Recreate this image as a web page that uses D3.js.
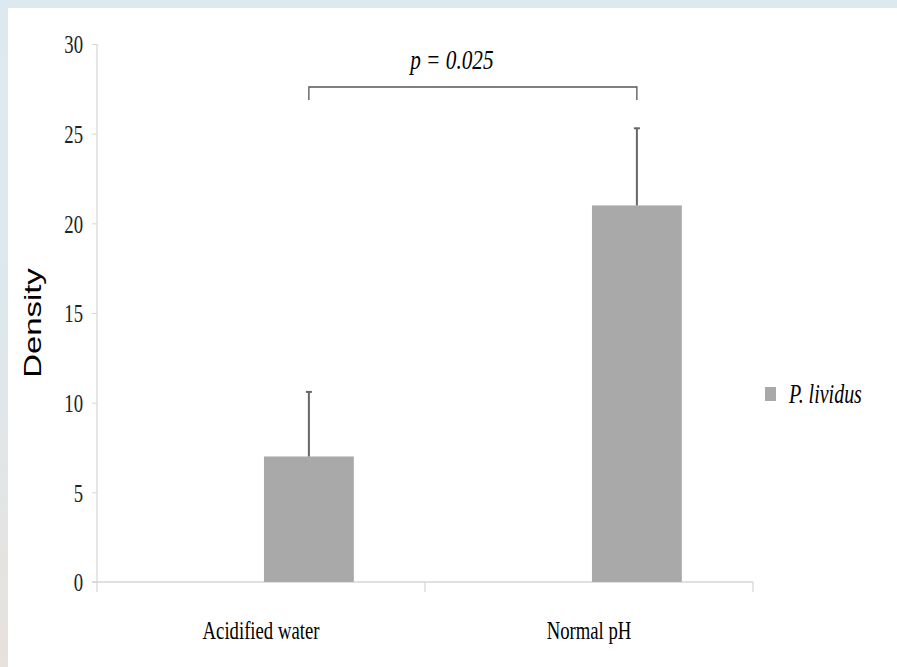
<!DOCTYPE html>
<html>
<head>
<meta charset="utf-8">
<script src="https://cdn.jsdelivr.net/npm/d3@7"></script>
<style>
  html, body { margin: 0; padding: 0; background: #ffffff; }
  svg { display: block; }
</style>
</head>
<body>
<svg id="chart" width="897" height="667"></svg>
<script>
// Sea urchin density by water treatment
const categories = ["Acidified water", "Normal pH"];
const seriesName = "P. lividus";
const means = [7.0, 21.0];
const errors = [3.6, 4.3];
const yTicks = [0, 5, 10, 15, 20, 25, 30];
const pLabel = "p = 0.025";

(function draw() {
  const W = 897, H = 667;
  const svg = d3.select("#chart");

  // Frame: light blue band on top, blue-to-beige band on the left
  const defs = svg.append("defs");
  const grad = defs.append("linearGradient").attr("id", "edge").attr("x1", 0).attr("y1", 0).attr("x2", 0).attr("y2", 1);
  grad.append("stop").attr("offset", "0%").attr("stop-color", "#dde9f1");
  grad.append("stop").attr("offset", "55%").attr("stop-color", "#dfe7ec");
  grad.append("stop").attr("offset", "100%").attr("stop-color", "#e8e1dc");
  svg.append("rect").attr("x", 0).attr("y", 0).attr("width", W).attr("height", 8).attr("fill", "#dde9f1");
  svg.append("rect").attr("x", 0).attr("y", 0).attr("width", 8).attr("height", H).attr("fill", "url(#edge)");

  const pLeft = 97, pRight = 753, pTop = 44, pBottom = 582;
  const serif = "'Liberation Serif', 'Times New Roman', serif";
  const fs = 26, sx = 0.72;   // condensed serif text

  const x = d3.scaleBand().domain(categories).range([pLeft, pRight]).padding(0);
  const y = d3.scaleLinear().domain([0, 30]).range([pBottom, pTop]);

  const axisColor = "#d6d6d6";

  // y axis
  const yAxis = svg.append("g").attr("transform", `translate(${pLeft},0)`)
    .call(d3.axisLeft(y).tickValues(yTicks).tickSize(5).tickFormat(d3.format("d")));
  yAxis.select(".domain").remove();
  yAxis.selectAll(".tick line").attr("stroke", axisColor);
  yAxis.selectAll(".tick text").remove();
  yAxis.selectAll(".tick").append("text")
    .attr("transform", `translate(-14,0) scale(${sx},1)`)
    .attr("text-anchor", "end").attr("dy", "0.34em")
    .attr("fill", "#222").attr("font-family", serif).attr("font-size", fs)
    .text(d => d);
  svg.append("line").attr("x1", pLeft).attr("x2", pLeft).attr("y1", pTop).attr("y2", pBottom + 10)
    .attr("stroke", axisColor).attr("stroke-width", 1.2);

  // x axis with boundary ticks
  svg.append("line").attr("x1", pLeft - 5).attr("x2", pRight).attr("y1", pBottom).attr("y2", pBottom)
    .attr("stroke", axisColor).attr("stroke-width", 1.5);
  const bounds = [x(categories[1]), pRight];
  svg.selectAll(".xb").data(bounds).join("line")
    .attr("x1", d => d).attr("x2", d => d).attr("y1", pBottom).attr("y2", pBottom + 10)
    .attr("stroke", axisColor).attr("stroke-width", 1.2);

  svg.selectAll(".xl").data(categories).join("text")
    .attr("transform", d => `translate(${x(d) + x.bandwidth() / 2},${pBottom + 57}) scale(${sx},1)`)
    .attr("text-anchor", "middle").attr("fill", "#000")
    .attr("font-family", serif).attr("font-size", fs)
    .text(d => d);

  // bars sit in the right half of each category band
  const barX = d => x(d) + x.bandwidth() * 0.509;
  const barW = x.bandwidth() * 0.274;

  const rows = categories.map((c, i) => ({ c, v: means[i], e: errors[i] }));

  svg.selectAll(".bar").data(rows).join("rect")
    .attr("x", d => barX(d.c)).attr("width", barW)
    .attr("y", d => y(d.v)).attr("height", d => y(0) - y(d.v))
    .attr("fill", "#a9a9a9");

  // upper error bars
  const eb = svg.selectAll(".eb").data(rows).join("g");
  eb.append("line")
    .attr("x1", d => barX(d.c) + barW / 2).attr("x2", d => barX(d.c) + barW / 2)
    .attr("y1", d => y(d.v)).attr("y2", d => y(d.v + d.e))
    .attr("stroke", "#666").attr("stroke-width", 2);
  eb.append("line")
    .attr("x1", d => barX(d.c) + barW / 2 - 3).attr("x2", d => barX(d.c) + barW / 2 + 3)
    .attr("y1", d => y(d.v + d.e)).attr("y2", d => y(d.v + d.e))
    .attr("stroke", "#666").attr("stroke-width", 2);

  // significance bracket
  const bx1 = barX(categories[0]) + barW / 2, bx2 = barX(categories[1]) + barW / 2;
  const by = 87;
  svg.append("path")
    .attr("d", `M${bx1},${by + 13}V${by}H${bx2}V${by + 13}`)
    .attr("fill", "none").attr("stroke", "#555").attr("stroke-width", 1.3);
  svg.append("text")
    .attr("transform", `translate(${(bx1 + bx2) / 2 - 21},${by - 18}) scale(0.76,1)`)
    .attr("text-anchor", "middle").attr("fill", "#000")
    .attr("font-family", serif).attr("font-size", 28).attr("font-style", "italic")
    .text(pLabel);

  // legend
  svg.append("rect").attr("x", 765).attr("y", 387).attr("width", 11).attr("height", 14).attr("fill", "#a9a9a9");
  svg.append("text")
    .attr("transform", `translate(789,403) scale(0.74,1)`)
    .attr("fill", "#000").attr("font-family", serif).attr("font-size", 27).attr("font-style", "italic")
    .text(seriesName);

  // y axis title
  svg.append("text")
    .attr("transform", `translate(41,323) rotate(-90) scale(1.37,1)`)
    .attr("text-anchor", "middle").attr("fill", "#000")
    .attr("font-family", "'Liberation Sans', Arial, sans-serif").attr("font-size", 24)
    .text("Density");
})();
</script>
</body>
</html>
